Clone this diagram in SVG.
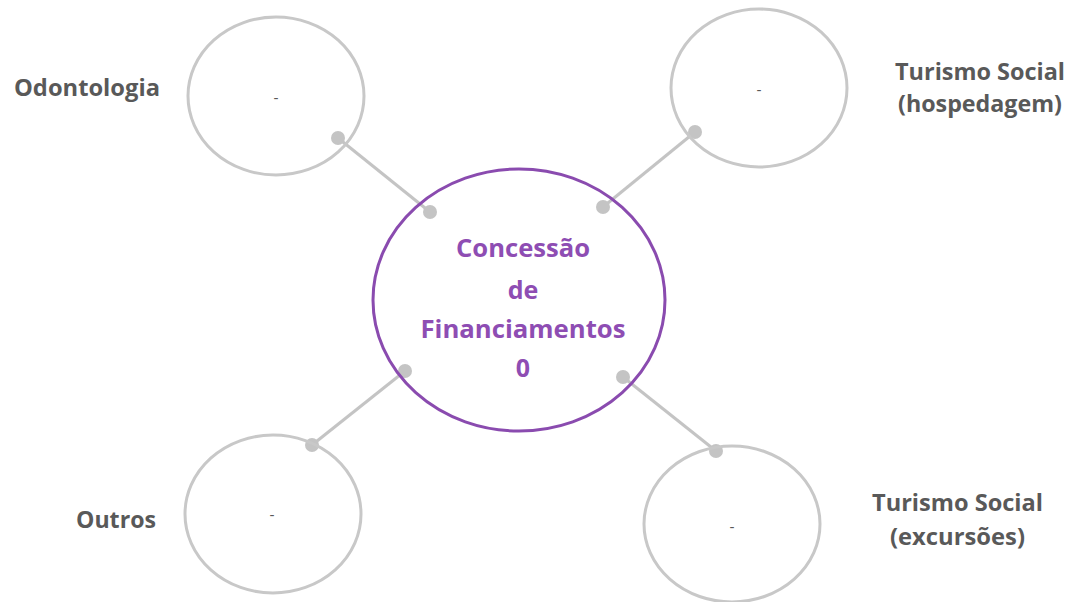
<svg xmlns="http://www.w3.org/2000/svg" width="1071" height="602" viewBox="0 0 1071 602">
<style>
.sat{fill:none;stroke:#c8c8c8;stroke-width:3}
.hub{fill:none;stroke:#8a4baf;stroke-width:3}
.con{stroke:#c4c4c4;stroke-width:3}
.dot{fill:#c4c4c4}
.lbl{font-family:"Open Sans","Liberation Sans",sans-serif;font-weight:700;font-size:22.5px;fill:#595959}
.ctr{font-family:"Open Sans","Liberation Sans",sans-serif;font-weight:700;font-size:25px;fill:#8e4db3;text-anchor:middle}
.dash{font-family:"Liberation Sans",sans-serif;font-size:15px;fill:#595959;text-anchor:middle}
</style>
<rect width="1071" height="602" fill="#ffffff"/>
<g id="connectors">
<line class="con" x1="338" y1="138" x2="430" y2="212"/>
<line class="con" x1="695" y1="132" x2="603" y2="207"/>
<line class="con" x1="405" y1="371" x2="312" y2="445"/>
<line class="con" x1="623" y1="377" x2="716" y2="451"/>
<circle class="dot" cx="338" cy="138" r="7"/>
<circle class="dot" cx="430" cy="212" r="7"/>
<circle class="dot" cx="695" cy="132" r="7"/>
<circle class="dot" cx="603" cy="207" r="7"/>
<circle class="dot" cx="405" cy="371" r="7"/>
<circle class="dot" cx="312" cy="445" r="7"/>
<circle class="dot" cx="623" cy="377" r="7"/>
<circle class="dot" cx="716" cy="451" r="7"/>
</g>
<g id="hub">
<ellipse class="hub" cx="519" cy="300" rx="146" ry="131"/>
<text class="ctr" x="523" y="257" textLength="134" lengthAdjust="spacingAndGlyphs">Concessão</text>
<text class="ctr" x="523" y="299">de</text>
<text class="ctr" x="523" y="338" textLength="205" lengthAdjust="spacingAndGlyphs">Financiamentos</text>
<text class="ctr" x="523" y="377">0</text>
</g>
<g id="odontologia">
<ellipse class="sat" cx="276" cy="96" rx="88" ry="79"/>
<text class="dash" x="276" y="103">-</text>
<text class="lbl" x="14" y="96" textLength="146" lengthAdjust="spacingAndGlyphs">Odontologia</text>
</g>
<g id="turismo-hospedagem">
<ellipse class="sat" cx="759" cy="88" rx="88" ry="79"/>
<text class="dash" x="759" y="95">-</text>
<text class="lbl" x="895" y="80" textLength="170" lengthAdjust="spacingAndGlyphs">Turismo Social</text>
<text class="lbl" x="898" y="112" textLength="164" lengthAdjust="spacingAndGlyphs">(hospedagem)</text>
</g>
<g id="outros">
<ellipse class="sat" cx="273" cy="514" rx="88" ry="79"/>
<text class="dash" x="272" y="520">-</text>
<text class="lbl" x="76" y="528" textLength="80" lengthAdjust="spacingAndGlyphs">Outros</text>
</g>
<g id="turismo-excursoes">
<ellipse class="sat" cx="732" cy="524" rx="88" ry="78"/>
<text class="dash" x="732" y="532">-</text>
<text class="lbl" x="872" y="511" textLength="171" lengthAdjust="spacingAndGlyphs">Turismo Social</text>
<text class="lbl" x="890" y="545" textLength="135" lengthAdjust="spacingAndGlyphs">(excursões)</text>
</g>
</svg>
